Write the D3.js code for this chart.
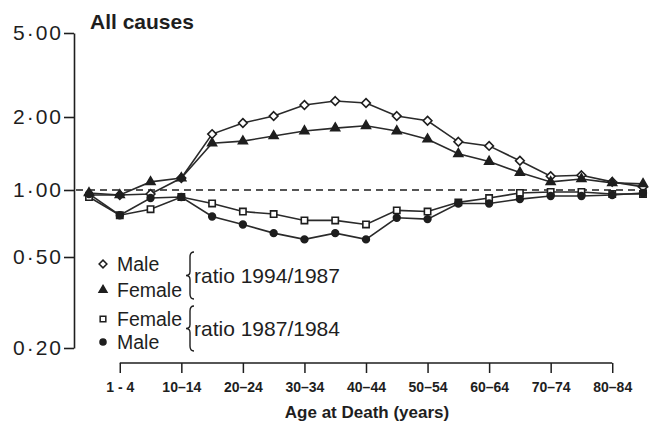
<!DOCTYPE html>
<html>
<head>
<meta charset="utf-8">
<script src="https://cdn.jsdelivr.net/npm/d3@7"></script>
<style>
  html, body { margin: 0; padding: 0; background: #fff; }
  svg { display: block; font-family: "Liberation Sans", Arial, sans-serif; }
</style>
</head>
<body>
<script>
// ---- data ----
const ageGroups = ["<1","1–4","5–9","10–14","15–19","20–24","25–29","30–34","35–39","40–44",
                   "45–49","50–54","55–59","60–64","65–69","70–74","75–79","80–84","85+"];
const xTickGroups = ["1–4","10–14","20–24","30–34","40–44","50–54","60–64","70–74","80–84"];
const xTickLabels = ["1 - 4","10–14","20–24","30–34","40–44","50–54","60–64","70–74","80–84"];
const yTickValues = [0.2, 0.5, 1, 2, 5];
const yTickLabels = ["0·20","0·50","1·00","2·00","5·00"];

const maleRatio9487   = [0.95,0.95,0.96,1.12,1.70,1.89,2.02,2.28,2.38,2.33,2.02,1.93,1.58,1.52,1.32,1.14,1.15,1.08,1.03];
const femaleRatio9487 = [0.97,0.95,1.08,1.12,1.56,1.59,1.67,1.75,1.80,1.84,1.75,1.62,1.41,1.31,1.18,1.08,1.11,1.07,1.06];
const femaleRatio8784 = [0.93,0.77,0.82,0.93,0.87,0.80,0.78,0.73,0.73,0.70,0.81,0.80,0.88,0.92,0.97,0.98,0.98,0.96,0.96];
const maleRatio8784   = [0.96,0.77,0.92,0.93,0.76,0.70,0.64,0.60,0.64,0.60,0.75,0.74,0.87,0.87,0.91,0.94,0.94,0.95,0.97];

const seriesNames = ["Male","Female","Female","Male"];
const groupLabels = ["ratio 1994/1987","ratio 1987/1984"];

const ink = "#1e1e1e";
const W = 649, H = 423;

const svg = d3.select("body").append("svg").attr("width", W).attr("height", H);

const x = d3.scalePoint().domain(ageGroups).range([89, 643]);
// piecewise log scale following the printed axis
const y = d3.scaleLog().domain([0.2, 0.5, 1, 2, 5]).range([348, 257, 190, 117, 33]);

// title
svg.append("text").attr("x", 90).attr("y", 29)
  .attr("font-size", 21).attr("font-weight", "bold").attr("fill", ink)
  .text("All causes");

// y axis
const yAxis = d3.axisLeft(y).tickValues(yTickValues).tickSize(10).tickSizeOuter(0).tickPadding(1)
  .tickFormat((d, i) => yTickLabels[i]);
const gy = svg.append("g").attr("transform", "translate(74,0)").call(yAxis);
gy.select(".domain").attr("stroke", ink).attr("stroke-width", 1.6);
gy.selectAll(".tick line").attr("stroke", ink).attr("stroke-width", 1.6);
gy.selectAll(".tick text").attr("fill", ink).attr("font-size", 21)
  .attr("letter-spacing", "2px").attr("font-family", "'Liberation Sans', Arial, sans-serif");

// reference dashed line at 1.00
svg.append("line").attr("x1", 76).attr("x2", W).attr("y1", y(1)).attr("y2", y(1))
  .attr("stroke", "#555").attr("stroke-width", 2).attr("stroke-dasharray", "7,5");

// x axis (bracket with ticks)
const xAxis = d3.axisBottom(x).tickValues(xTickGroups).tickSize(10).tickPadding(9)
  .tickFormat((d, i) => xTickLabels[i]);
const gx = svg.append("g").attr("transform", "translate(0,363)").call(xAxis);
gx.select(".domain").remove();
gx.append("line").attr("x1", x(xTickGroups[0])).attr("x2", x(xTickGroups[xTickGroups.length-1]))
  .attr("y1", 0).attr("y2", 0).attr("stroke", ink).attr("stroke-width", 1.5);
gx.selectAll(".tick line").attr("stroke", ink).attr("stroke-width", 1.5);
gx.selectAll(".tick text").attr("fill", ink).attr("font-size", 14).attr("font-weight", "bold")
  .attr("font-family", "'Liberation Sans', Arial, sans-serif");

svg.append("text").attr("x", 367).attr("y", 418).attr("text-anchor", "middle")
  .attr("font-size", 17).attr("font-weight", "bold").attr("fill", ink)
  .text("Age at Death (years)");

// series
const series = [
  { vals: maleRatio9487,   sym: d3.symbolDiamond2, size: 48, fill: "#fff" },
  { vals: femaleRatio9487, sym: d3.symbolTriangle, size: 34, fill: ink },
  { vals: femaleRatio8784, sym: d3.symbolSquare,   size: 40, fill: "#fff" },
  { vals: maleRatio8784,   sym: d3.symbolCircle,   size: 36, fill: ink }
];

const line = d3.line().x((d, i) => x(ageGroups[i])).y(d => y(d));

series.forEach(s => {
  svg.append("path").datum(s.vals).attr("d", line)
    .attr("fill", "none").attr("stroke", "#2a2a2a").attr("stroke-width", 1.6);
});
series.forEach(s => {
  svg.append("g").selectAll("path").data(s.vals).join("path")
    .attr("transform", (d, i) => `translate(${x(ageGroups[i])},${y(d)})`)
    .attr("d", d3.symbol().type(s.sym).size(s.size))
    .attr("fill", s.fill).attr("stroke", ink).attr("stroke-width", 1.6);
});

// legend
const legendY = [264, 290, 319, 342];
const lg = svg.append("g");
series.forEach((s, i) => {
  lg.append("path").attr("transform", `translate(103,${legendY[i]})`)
    .attr("d", d3.symbol().type(s.sym).size(s.size * 0.8))
    .attr("fill", s.fill).attr("stroke", ink).attr("stroke-width", 1.5);
  lg.append("text").attr("x", 117).attr("y", legendY[i] + 7)
    .attr("font-size", 19.5).attr("fill", ink).text(seriesNames[i]);
});
// braces
function brace(xb, y0, y1) {
  const ym = (y0 + y1) / 2;
  return `M${xb+4},${y0} Q${xb},${y0} ${xb},${y0+5} L${xb},${ym-4} Q${xb},${ym} ${xb-4},${ym}` +
         ` Q${xb},${ym} ${xb},${ym+4} L${xb},${y1-5} Q${xb},${y1} ${xb+4},${y1}`;
}
[[252, 299], [306, 351]].forEach((r, i) => {
  lg.append("path").attr("d", brace(190, r[0], r[1]))
    .attr("fill", "none").attr("stroke", ink).attr("stroke-width", 1.4);
  lg.append("text").attr("x", 194).attr("y", (r[0] + r[1]) / 2 + 7)
    .attr("font-size", 21).attr("fill", ink).text(groupLabels[i]);
});
</script>
</body>
</html>
